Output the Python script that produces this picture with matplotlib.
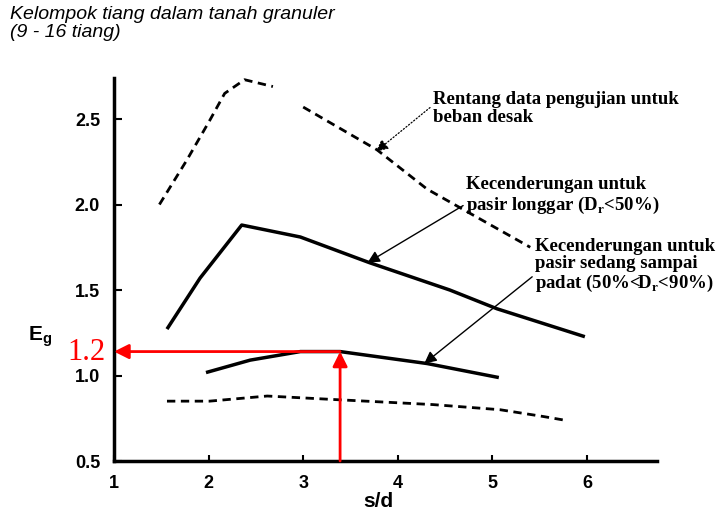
import numpy as np
import matplotlib.pyplot as plt

# curve data (s/d vs efficiency Eg)
upper_dash_x = [1.48, 1.77, 2.01, 2.17, 2.38, 2.68, np.nan, 3.00, 3.78, 4.31, 5.40]
upper_dash_y = [2.00, 2.26, 2.49, 2.65, 2.73, 2.69, np.nan, 2.57, 2.32, 2.09, 1.75]

loose_x = [1.57, 1.91, 2.35, 2.97, 3.70, 4.55, 5.05, 5.96]
loose_y = [1.28, 1.57, 1.88, 1.81, 1.66, 1.50, 1.39, 1.23]

dense_x = [1.99, 2.44, 2.97, 3.39, 4.31, 5.05]
dense_y = [1.02, 1.09, 1.14, 1.14, 1.07, 0.99]

lower_dash_x = [1.56, 2.01, 2.62, 3.31, 4.37, 5.08, 5.54, 5.75]
lower_dash_y = [0.85, 0.85, 0.88, 0.86, 0.83, 0.80, 0.76, 0.74]

x_ticks = [1, 2, 3, 4, 5, 6]
y_ticks = [0.5, 1.0, 1.5, 2.0, 2.5]
read_x = 3.39
read_y = 1.14

plt.rcParams['font.family'] = ['Liberation Sans', 'DejaVu Sans']

fig = plt.figure(figsize=(7.16, 5.14), dpi=100)
ax = fig.add_axes([114 / 716, 1 - 461 / 514, (657 - 114) / 716, (461 - 78) / 514])

ax.plot(upper_dash_x, upper_dash_y, color='black', lw=2, ls=(0, (3, 2)))
ax.plot(loose_x, loose_y, color='black', lw=2.5)
ax.plot(dense_x, dense_y, color='black', lw=2.5)
ax.plot(lower_dash_x, lower_dash_y, color='black', lw=2, ls=(0, (3, 2)))

ax.set_xlim(1, 6.74)
ax.set_ylim(0.5, 2.74)
ax.set_xticks(x_ticks)
ax.set_yticks(y_ticks)
ax.set_xticklabels([str(v) for v in x_ticks], fontsize=13, fontweight='bold')
ax.set_yticklabels(['%.1f' % v for v in y_ticks], fontsize=13, fontweight='bold')
ax.tick_params(axis='x', direction='in', length=4, width=1.5, pad=10)
ax.tick_params(axis='y', direction='in', length=6, width=1.5, pad=10)
for s in ['top', 'right']:
    ax.spines[s].set_visible(False)
for s in ['left', 'bottom']:
    ax.spines[s].set_linewidth(2.5)
ax.set_xlabel('s/d', fontsize=15, fontweight='bold')
ax.xaxis.set_label_coords((378 - 114) / 543, (461 - 492) / 383)

fig.text(40 / 716, 1 - 337 / 514, r'E$_\mathregular{g}$', fontsize=15, fontweight='bold',
         ha='center', va='center')

# title in the corner
fig.text(10 / 716, 1 - 6 / 514, 'Kelompok tiang dalam tanah granuler\n(9 - 16 tiang)',
         fontsize=14, style='italic', ha='left', va='top', linespacing=1.1)

# annotations with arrows
note_font = dict(family='Liberation Serif', fontweight='bold', fontsize=13.5)
ax.annotate('Rentang data pengujian untuk\nbeban desak', xy=(3.77, 2.31), xytext=(4.37, 2.56),
            ha='left', va='center', linespacing=1.05, **note_font,
            arrowprops=dict(arrowstyle='-|>', color='black', lw=0.9, ls=':',
                            mutation_scale=18, shrinkA=0, shrinkB=0,
                            relpos=(0, 0.6)))
ax.annotate(r'Kecenderungan untuk' + '\n' + r'pasir longgar (D$_\mathregular{r}$<50%)',
            xy=(3.68, 1.66), xytext=(4.72, 2.05), ha='left', va='center', linespacing=1.1,
            **note_font,
            arrowprops=dict(arrowstyle='-|>', color='black', lw=1, mutation_scale=18,
                            shrinkA=0, shrinkB=0, relpos=(0, 0.3)))
ax.annotate(r'Kecenderungan untuk' + '\n' + 'pasir sedang sampai' + '\n'
            + r'padat (50%<D$_\mathregular{r}$<90%)',
            xy=(4.28, 1.07), xytext=(5.45, 1.64), ha='left', va='center', linespacing=1.05,
            **note_font,
            arrowprops=dict(arrowstyle='-|>', color='black', lw=1, mutation_scale=18,
                            shrinkA=0, shrinkB=0, relpos=(0, 0.35)))

# red reading arrows
ax.annotate('', xy=(1, read_y), xytext=(read_x, read_y),
            arrowprops=dict(arrowstyle='-|>', color='red', lw=2, mutation_scale=22,
                            shrinkA=0, shrinkB=0))
ax.annotate('', xy=(read_x, read_y), xytext=(read_x, 0.5),
            arrowprops=dict(arrowstyle='-|>', color='red', lw=2, mutation_scale=22,
                            shrinkA=0, shrinkB=0))
ax.annotate('1.2', xy=(1, read_y), xytext=(-9, -1), textcoords='offset pixels',
            color='red', fontsize=22, family='Liberation Serif',
            ha='right', va='center', annotation_clip=False)

fig.savefig('out.png', dpi=100)
